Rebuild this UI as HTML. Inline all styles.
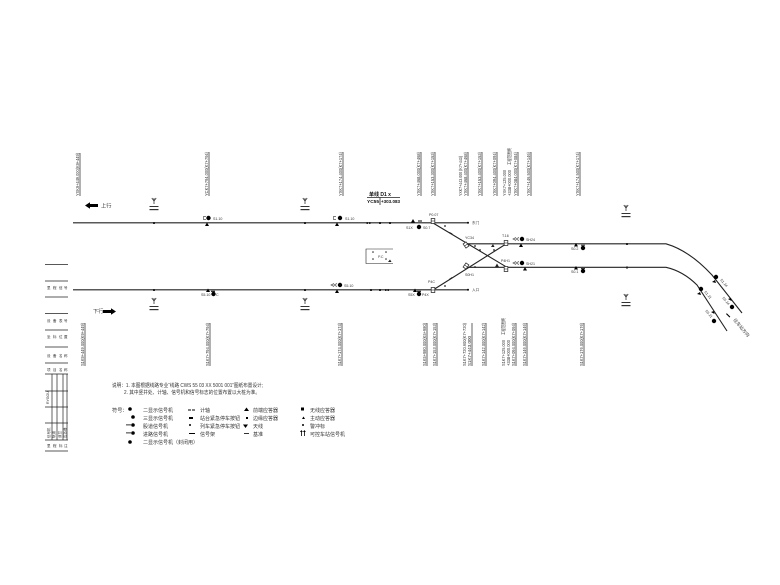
<!DOCTYPE html>
<html lang="zh">
<head>
<meta charset="utf-8">
<title>线路示意图</title>
<style>
html,body{margin:0;padding:0;background:#fff;width:780px;height:585px;overflow:hidden}
svg{display:block}
text{font-family:"Liberation Sans","Noto Sans CJK SC",sans-serif;fill:#333}
.v{font-size:4.4px;fill:#333}
.s{font-size:3.6px;fill:#444}
.n{font-size:5.2px;fill:#333}
.t{stroke:#222;stroke-width:1.1;fill:none}
.l{stroke:#222;stroke-width:.8;fill:none}
.g{stroke:#555;stroke-width:.7;fill:none}
</style>
</head>
<body>
<svg width="780" height="585" viewBox="0 0 780 585" xmlns="http://www.w3.org/2000/svg">
<defs>
<g id="tw"><path d="M-2.2-3 0 0 2.200-3M0-3V3" stroke="#333" stroke-width=".8" fill="none"/><rect x="-4.500" y="5" width="9" height="1" fill="#333"/><rect x="-4.500" y="8" width="9" height="1.200" fill="#333"/></g>
<g id="sw"><rect x="-1.800" y="-2.500" width="3.600" height="5" fill="#fff" stroke="#333" stroke-width=".8"/><path d="M-1.800 0H1.800" stroke="#333" stroke-width=".6"/></g>
</defs>

<!-- main tracks -->
<path class="t" d="M73 222.800H468M73 289.800H468"/>
<path class="t" d="M433 223 507 267.300M433 290 506 244"/>
<path class="t" d="M466 243.800H666C684 249 699 261 712 275L742 313"/>
<path class="t" d="M467 267.300H666C678 270 688 276 697 285L727 331"/>

<!-- track dots -->
<g fill="#222">
<rect x="153" y="222" width="2" height="2"/><rect x="304" y="222" width="2" height="2"/>
<rect x="153" y="289" width="2" height="2"/><rect x="304" y="289" width="2" height="2"/>
<rect x="366.500" y="222" width="1.500" height="2"/><rect x="369" y="222" width="1.500" height="2"/><rect x="379" y="222" width="2" height="2"/><rect x="389" y="222" width="2" height="2"/>
<rect x="370" y="289" width="2" height="2"/><rect x="379" y="289" width="2" height="2"/><rect x="385" y="289" width="1.500" height="2"/><rect x="387.500" y="289" width="1.500" height="2"/>
<rect x="626" y="243" width="2" height="2"/><rect x="626" y="266.500" width="2" height="2"/>
<circle cx="445" cy="226" r=".9"/><circle cx="475" cy="246" r=".9"/><circle cx="480" cy="250" r=".9"/><circle cx="445" cy="286" r=".9"/><circle cx="475" cy="267" r=".9"/><circle cx="494" cy="250" r=".9"/>
<path d="M449.500 232l3 1.500-.5 1-3-1.500zM449 279l3-2 .5 1-3 2z"/>
<path d="M495 267l2-3.500 2 3.500zM491 247l2-3 1.500 3z"/>
</g>

<!-- towers -->
<use href="#tw" x="154" y="201"/><use href="#tw" x="305" y="201"/><use href="#tw" x="626" y="208"/>
<use href="#tw" x="154" y="301"/><use href="#tw" x="305" y="301"/><use href="#tw" x="626" y="297"/>

<!-- direction arrows -->
<path d="M85 205.500l5-3.200v1.700h8v3h-8v1.700z" fill="#000"/><text x="101" y="207.500" class="n">上行</text>
<text x="93" y="313" class="n">下行</text><path d="M116 311.500l-5-3.200v1.700h-8v3h8v1.700z" fill="#000"/>

<!-- signals -->
<g fill="#000">
<circle cx="208.500" cy="218" r="2.200"/><path d="M205 226l2-3.500 2 3.500z"/>
<circle cx="340" cy="218" r="2.200"/><path d="M335 226l2-3.500 2 3.500z"/>
<path d="M411 222.500l2-3.500 2 3.500z"/><circle cx="419" cy="227" r="2.200"/><rect x="418" y="220.500" width="4" height="1"/>
<circle cx="522" cy="239" r="2.200"/><path d="M519 247l2-3.500 2 3.500z"/>
<circle cx="522" cy="263" r="2.200"/><path d="M523 270.500l2-3.500 2 3.500z"/>
<path d="M574 246.500l2-3.500 2 3.500z"/><circle cx="583" cy="248" r="2.200"/><rect x="581" y="244.800" width="4" height=".8"/>
<path d="M574 269.500l2-3.500 2 3.500z"/><circle cx="583" cy="271" r="2.200"/><rect x="581" y="268.200" width="4" height=".8"/>
<circle cx="213.500" cy="294" r="2.200"/><path d="M206 292l2-3.500 2 3.500z"/><rect x="211" y="290.800" width="4" height="1"/>
<circle cx="340" cy="285" r="2.200"/><path d="M335 293l2-3.500 2 3.500z"/>
<path d="M413 292l2-3.500 2 3.500z"/><circle cx="419" cy="294" r="2.200"/><rect x="417" y="290.800" width="4" height="1"/>
<circle cx="716" cy="277" r="2.200"/><circle cx="701" cy="289" r="2.200"/><circle cx="732" cy="307" r="2.200"/><circle cx="714" cy="321" r="2.200"/>
<path d="M712 282l3-2 1 3zM697 294l3-2 1 3zM728 299l3-1 .5 3zM711 312l3-1 .5 3z"/>
<path d="M726 314l.8-.8 3.500 3.500-.8.800z"/>
<circle cx="468" cy="222.800" r="1"/><circle cx="468" cy="289.800" r="1"/>
</g>
<g class="g">
<path d="M206 216.500h-2.500v3h2.500M336 216.500h-2.500v3h2.500"/>
<path d="M519 237.500l-3 1.500 3 1.500M516 237.500l-3 1.500 3 1.500M519 261.500l-3 1.500 3 1.500M516 261.500l-3 1.500 3 1.500"/>
<path d="M337 283.500l-3 1.500 3 1.500M334 283.500l-3 1.500 3 1.500"/>
</g>

<!-- switches -->
<use href="#sw" x="433" y="221"/><use href="#sw" x="433" y="290"/>
<use href="#sw" x="506" y="243"/><use href="#sw" x="506" y="269"/>
<use href="#sw" transform="translate(466 245) rotate(-35)"/><use href="#sw" transform="translate(466 266) rotate(35)"/>

<!-- signal labels -->
<g class="s">
<text x="213" y="220">S1.10</text><text x="345" y="220">S1.10</text>
<text x="406" y="229">S1X</text><text x="423" y="229">S0.7</text>
<text x="429" y="216">P0.07</text><text x="472" y="224">东门</text>
<text x="465" y="239">YC34</text><text x="502" y="237">T.16</text><text x="501" y="262">P4H1</text>
<text x="526" y="241">SH24</text><text x="526" y="265">SH21</text>
<text x="465" y="276">S0H1</text><text x="428" y="283">P4C</text><text x="472" y="291">入口</text>
<text x="201" y="296">S5.10</text><text x="216" y="296">C</text>
<text x="344" y="287">S5.10</text>
<text x="408" y="296">S5X</text><text x="422" y="296">P4X</text>
<text x="571" y="250">S0.2</text><text x="571" y="273">S0.1</text>
<text transform="translate(720 280) rotate(50)">S1.24</text>
<text transform="translate(704 292) rotate(50)">S1.21</text>
<text transform="translate(722 298) rotate(50)">S5.24</text>
<text transform="translate(705 311) rotate(50)">S5.21</text>
<text transform="translate(733 320) rotate(50)" style="font-size:4.500px">往车站方向</text>
</g>

<!-- box -->
<path class="l" d="M393 249H366V263.500H393" style="stroke-width:.6"/>
<g fill="#222"><circle cx="373" cy="252" r=".8"/><circle cx="386" cy="252" r=".8"/><circle cx="373" cy="259" r=".8"/><circle cx="386" cy="259" r=".8"/><path d="M388 262l2-2.500 1.500 2.500z"/></g>
<text x="378" y="258" class="s">P.C</text>

<!-- chainage heading -->
<text x="380" y="196" text-anchor="middle" style="font-size:5px;font-weight:bold;fill:#111">单线 D1 x</text>
<path class="l" d="M367 197.500H400M380 197.500V205"/>
<text x="367" y="203" style="font-size:4.500px;font-weight:bold;fill:#111" textLength="12" lengthAdjust="spacingAndGlyphs">YC55</text>
<text x="381" y="203" style="font-size:4.500px;font-weight:bold;fill:#111" textLength="19" lengthAdjust="spacingAndGlyphs">+303.083</text>

<!-- vertical label leaders -->
<g class="l" style="stroke-width:.7">
<path d="M80 153V196M209 152V196M343 152V196M421 152V196M435 152V196M468 152V196M482 152V196M497 152V196M518 152V196M531 152V196M580 152V196"/>
<path d="M85 323V366M210 323V366M342 323V366M427 323V366M437 323V366M472 323V366M486 323V366M516 323V366M527 323V366M584 323V366"/>
</g>
<g class="v">
<text transform="translate(79 196) rotate(-90)" textLength="43" lengthAdjust="spacingAndGlyphs">YXK9+449.000(K9+449)</text>
<text transform="translate(208 196) rotate(-90)" textLength="44" lengthAdjust="spacingAndGlyphs">YCK7+794.000(K7+794)</text>
<text transform="translate(342 196) rotate(-90)" textLength="44" lengthAdjust="spacingAndGlyphs">YXK7+174.400(K7+174)</text>
<text transform="translate(420 196) rotate(-90)" textLength="44" lengthAdjust="spacingAndGlyphs">YXK7+468.000(K7+468)</text>
<text transform="translate(434 196) rotate(-90)" textLength="44" lengthAdjust="spacingAndGlyphs">YXK7+153.300(K7+153)</text>
<text transform="translate(467 196) rotate(-90)" textLength="44" lengthAdjust="spacingAndGlyphs">YXK7+468.400(K7+468)</text>
<text transform="translate(462 196) rotate(-90)" textLength="40" lengthAdjust="spacingAndGlyphs">YXK7+443.000 (K7+443)</text>
<text transform="translate(481 196) rotate(-90)" textLength="44" lengthAdjust="spacingAndGlyphs">YXK7+153.400(K7+153)</text>
<text transform="translate(496 196) rotate(-90)" textLength="44" lengthAdjust="spacingAndGlyphs">YXK7+094.400(K7+094)</text>
<text transform="translate(506 196) rotate(-90)" textLength="26" lengthAdjust="spacingAndGlyphs">YXK7+125.000</text>
<text transform="translate(511 196) rotate(-90)" textLength="26" lengthAdjust="spacingAndGlyphs">+338+000.000</text>
<text transform="translate(511 165) rotate(-90)" textLength="17" lengthAdjust="spacingAndGlyphs">工程范围终</text>
<text transform="translate(517 196) rotate(-90)" textLength="44" lengthAdjust="spacingAndGlyphs">YXK7+084.000(K7+084)</text>
<text transform="translate(530 196) rotate(-90)" textLength="44" lengthAdjust="spacingAndGlyphs">YXK7+146.500(K7+146)</text>
<text transform="translate(579 196) rotate(-90)" textLength="44" lengthAdjust="spacingAndGlyphs">YXK7+174.500(K7+174)</text>
<text transform="translate(84 366) rotate(-90)" textLength="43" lengthAdjust="spacingAndGlyphs">S1K9+449.000(K9+449)</text>
<text transform="translate(209 366) rotate(-90)" textLength="43" lengthAdjust="spacingAndGlyphs">S1K7+794.000(K7+794)</text>
<text transform="translate(341 366) rotate(-90)" textLength="43" lengthAdjust="spacingAndGlyphs">S1K7+174.000(K7+174)</text>
<text transform="translate(426 366) rotate(-90)" textLength="43" lengthAdjust="spacingAndGlyphs">S1K5+980.000(K5+980)</text>
<text transform="translate(436 366) rotate(-90)" textLength="43" lengthAdjust="spacingAndGlyphs">S1K7+153.000(K7+153)</text>
<text transform="translate(466 366) rotate(-90)" textLength="43" lengthAdjust="spacingAndGlyphs">S1K7+720.600(K7+720)</text>
<text transform="translate(471 366) rotate(-90)" textLength="30" lengthAdjust="spacingAndGlyphs">S1K7+443.000</text>
<text transform="translate(485 366) rotate(-90)" textLength="43" lengthAdjust="spacingAndGlyphs">S1K7+142.000(K7+142)</text>
<text transform="translate(505 366) rotate(-90)" textLength="26" lengthAdjust="spacingAndGlyphs">S1K7+125.000</text>
<text transform="translate(510 366) rotate(-90)" textLength="26" lengthAdjust="spacingAndGlyphs">+338+000.000</text>
<text transform="translate(505 335) rotate(-90)" textLength="17" lengthAdjust="spacingAndGlyphs">工程范围终</text>
<text transform="translate(515 366) rotate(-90)" textLength="43" lengthAdjust="spacingAndGlyphs">S1K7+094.000(K7+094)</text>
<text transform="translate(526 366) rotate(-90)" textLength="43" lengthAdjust="spacingAndGlyphs">S1K7+146.000(K7+146)</text>
<text transform="translate(583 366) rotate(-90)" textLength="43" lengthAdjust="spacingAndGlyphs">S1K7+176.000(K7+176)</text>
</g>

<!-- notes -->
<g class="n">
<text x="112" y="387" textLength="151" lengthAdjust="spacingAndGlyphs">说明：1. 本图根据线路专业“线路 CWS 55 03 XX 5001 001”图纸布置设计;</text>
<text x="124" y="394" textLength="136" lengthAdjust="spacingAndGlyphs">2. 其中竖井处、计轴、信号机和信号标志的位置布置以大桩为准。</text>
<text x="112" y="412">符号：</text>
</g>
<g class="n" style="font-size:5px">
<text x="143" y="412">二显示信号机</text><text x="143" y="420">三显示信号机</text><text x="143" y="428">股道信号机</text><text x="143" y="436">进路信号机</text><text x="143" y="444">二显示信号机（封闭用）</text>
<text x="200" y="412">计轴</text><text x="200" y="420">站台紧急停车按钮</text><text x="200" y="428">列车紧急停车按钮</text><text x="200" y="436">信号架</text>
<text x="253" y="412">前端应答器</text><text x="253" y="420">边缘应答器</text><text x="253" y="428">天线</text><text x="253" y="436">基准</text>
<text x="310" y="412">无线应答器</text><text x="310" y="420">主动应答器</text><text x="310" y="428">警冲标</text><text x="310" y="436">可控车站信号机</text>
</g>
<g fill="#000">
<circle cx="130" cy="409" r="1.800"/><circle cx="133" cy="417" r="1.800"/><circle cx="133" cy="425" r="1.800"/><circle cx="133" cy="433" r="1.800"/><circle cx="130" cy="442" r="1.800"/>
<rect x="126" y="424.500" width="5" height=".8"/><rect x="126" y="432.500" width="5" height=".8"/>
<path d="M188 409.500h3v1h-3zM192 409.500h3v1h-3z"/><rect x="189" y="417" width="4" height="2"/><circle cx="190" cy="425" r="1"/><rect x="189" y="433" width="6" height="1"/>
<path d="M244 411l2.500-3.500 2.500 3.500z"/><rect x="246" y="417" width="2" height="2"/><path d="M243 424.500h5l-2.500 3.500z"/><rect x="244" y="433" width="5" height=".8"/>
<rect x="301" y="407.500" width="3" height="3"/><path d="M302 419l1.500-2.500 1.500 2.500z"/><circle cx="303" cy="425" r="1"/>
<path d="M301 431v5h.8v-5zM304 431v5h.8v-5z"/><path d="M300 432l1.400-2 1.400 2zM303 432l1.400-2 1.400 2z"/>
</g>

<!-- left table -->
<g class="l" style="stroke-width:.7">
<path d="M45 264.500H68M45 281H68M45 297H68M45 313.500H68M45 330H68M45 347H68M45 363H68M45 374H68M45 391H68M45 407H68M45 423H68M45 440H68M45 451H68"/>
<path d="M52 374V440M57 374V440M63 374V440M67 374V440"/>
</g>
<g style="font-size:3.500px">
<text x="47" y="289">里</text><text x="53" y="289">程</text><text x="59" y="289">信</text><text x="64" y="289">号</text>
<text x="47" y="322">设</text><text x="53" y="322">备</text><text x="59" y="322">表</text><text x="64" y="322">号</text>
<text x="47" y="338">坐</text><text x="53" y="338">标</text><text x="59" y="338">位</text><text x="64" y="338">置</text>
<text x="47" y="357">设</text><text x="53" y="357">备</text><text x="59" y="357">名</text><text x="64" y="357">称</text>
<text x="47" y="371">项</text><text x="53" y="371">目</text><text x="59" y="371">名</text><text x="64" y="371">称</text>
<text x="47" y="447">里</text><text x="53" y="447">程</text><text x="59" y="447">标</text><text x="64" y="447">注</text>
<text transform="translate(49 404) rotate(-90)">RYGOU</text>
<text transform="translate(50 438) rotate(-90)">信号机</text><text transform="translate(55 438) rotate(-90)">轨道</text><text transform="translate(61 438) rotate(-90)">道岔</text><text transform="translate(66 438) rotate(-90)">应答器</text>
</g>
</svg>
</body>
</html>
